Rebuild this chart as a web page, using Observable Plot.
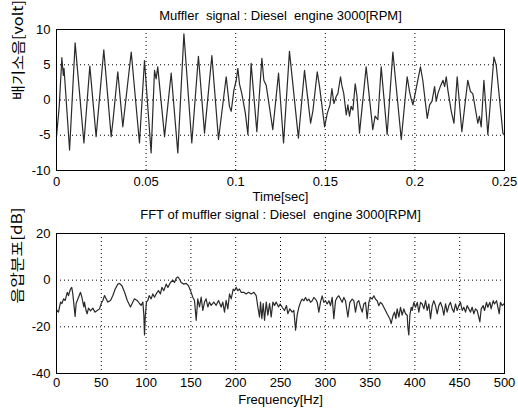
<!DOCTYPE html>
<html><head><meta charset="utf-8">
<script src="https://cdn.jsdelivr.net/npm/d3@7"></script>
<script src="https://cdn.jsdelivr.net/npm/@observablehq/plot@0.6"></script>
<style>
body{margin:0;background:#fff;}
#fig{position:relative;width:518px;height:414px;background:#fff;overflow:hidden}
#fig svg{position:absolute;left:0;overflow:visible;background:none}
</style></head><body><div id="fig"></div>
<script>
// ---- Time-domain signal ----
const timeSec = [0,0.0015,0.0030,0.0038,0.0042,0.0073,0.0104,0.0153,0.0186,0.0221,0.0264,0.0305,0.0315,0.0342,0.0370,0.0417,0.0463,0.0491,0.0528,0.0547,0.0556,0.0565,0.0603,0.0640,0.0677,0.0711,0.0755,0.0792,0.0826,0.0867,0.0904,0.0947,0.0965,0.0975,0.0990,0.1003,0.1012,0.1021,0.1034,0.1047,0.1054,0.1068,0.1086,0.1118,0.1146,0.1157,0.1170,0.1207,0.1239,0.1267,0.1300,0.1350,0.1384,0.1418,0.1431,0.1455,0.1468,0.1496,0.1511,0.1526,0.1537,0.1548,0.1561,0.1570,0.1585,0.1592,0.1603,0.1617,0.1626,0.1635,0.1644,0.1654,0.1667,0.1677,0.1691,0.1728,0.1765,0.1778,0.1793,0.1812,0.1845,0.1877,0.1924,0.1957,0.1970,0.1979,0.1989,0.2007,0.2031,0.2044,0.2069,0.2082,0.2095,0.2110,0.2119,0.2128,0.2143,0.2157,0.2166,0.2175,0.2184,0.2203,0.2218,0.2236,0.2262,0.2295,0.2310,0.2323,0.2351,0.2360,0.2370,0.2385,0.2407,0.2441,0.2454,0.2491,0.2500];
const volt = [-5.2,-1.0,6.0,3.5,4.5,-7.1,8.1,-6.1,4.8,-5.2,7.1,-5.2,-3.0,4.0,-3.8,6.8,-6.1,5.6,-7.5,4.2,3.0,4.7,-5.2,3.8,-7.5,9.4,-6.1,6.2,-4.7,6.3,-5.6,3.3,-0.9,-1.6,1.4,2.8,4.5,2.3,0.9,-0.9,-1.9,-4.9,5.2,-4.5,5.9,2.8,2.1,-4.2,3.8,-6.1,6.9,-5.4,4.2,-3.3,-1.5,4.0,1.9,-3.8,-1.9,-0.7,1.6,-0.5,0.5,0.9,3.3,2.1,0.9,-2.1,-0.7,-2.3,-0.9,-1.4,2.3,0.5,-4.7,4.7,-4.2,-2.3,-2.8,4.7,-4.9,6.8,-5.6,3.3,1.2,0.2,-0.7,1.6,4.7,2.8,-2.6,-0.7,-0.2,1.9,-0.2,0.9,2.0,2.8,1.9,3.3,1.4,-1.6,-3.3,3.3,-4.5,2.8,1.2,0.9,-3.3,-2.3,-3.8,2.8,-4.9,6.1,4.9,-4.7,-5.0];

// ---- Spectrum ----
const freqHz = [0,0.7,2.2,4.5,6,8,9.7,12,13.4,15.6,17,18.2,20.8,21.9,24.6,26.8,28.3,30.5,31.2,33,34.2,35.7,38,40.5,43,45.4,48,49.9,51.7,53.6,55.4,57.3,60.3,62.9,65.5,68.5,70.3,73,76,79,82.6,85.2,87,90,92.6,94.5,96.4,97.5,98.2,99,100.4,101.9,103.4,105.6,107.5,109.4,111.2,113.8,116,117.6,119.8,122.4,124.3,127.2,129.8,131.7,133.6,135.4,137.3,139.1,142.1,144.7,147.3,149.6,152.1,154,155.9,157.7,159.6,161.5,163.3,165.2,167,168.9,170.7,172.6,175.6,178.2,180.8,183.8,185.6,187.5,189.3,191.2,193.1,195,197.2,198.7,200.5,202.4,204.2,206.1,209,211.6,214.4,217.3,220.3,222.9,224.7,226.6,227.7,229.2,230.7,232.2,234.1,235.9,237.8,239.6,241.5,243.3,245.2,247.8,249.6,251.9,254.4,256.7,258.2,260.4,263,264.9,266.8,268.6,270.5,272.3,274.2,276.1,277.9,279.8,281.7,283.5,285.4,287.2,289.1,291,292.8,294.6,296.5,298.4,300.2,302.1,304,305.8,307.7,309.5,311.4,313.2,315.1,317,318.8,320.7,322.5,325.2,327.4,330,331.8,333.7,335.6,337.4,339.3,341.2,343,344.9,346.7,348.6,350.4,352.3,354.2,356,357.9,359.7,361.6,363.5,365.3,369,372,373.5,375.7,377.2,378.7,380.2,382.1,383.9,385.8,387.6,389.5,391.4,392.1,393.2,394.4,395.9,397,398.8,400.7,402.6,404.4,406.3,408.1,410,411.9,413.7,415.6,417.4,419.3,421.1,423,424.9,426.7,428.6,430.5,432.3,434.2,436,437.9,439.7,441.6,443.5,445.3,447.2,449,450.9,452.8,454.6,456.5,458.3,460.2,462.1,463.9,465.8,467.6,469.5,472.5,474,476.2,477.7,479.9,481.4,483.7,485.1,487.4,488.8,491.1,492.6,494.1,495.5,497.4,499.3,500];
const levelDb = [-13.5,-13,-13.7,-9.4,-10,-8,-8.7,-5.2,-6.6,-3.8,-3.1,-5.9,-15.5,-10,-7.3,-5.2,-7.3,-11.5,-9.4,-13,-14.4,-12,-13.2,-12,-13.7,-13,-12.3,-10,-8.7,-6.6,-8,-9.4,-8.7,-6.6,-3.8,-1.7,-1.4,-2.4,-5.2,-8.7,-11.5,-9.4,-8,-8.7,-10,-10.8,-9.4,-15,-23.5,-16,-9.4,-8.7,-6.6,-8,-5.9,-7.3,-5.9,-4.5,-5.9,-3.1,-4.5,-1.7,-3.1,-1,0,-1,0.8,1.4,0.4,-1,-1.7,-1.4,-2.4,-4.5,-7.3,-8.7,-17.2,-8,-11.5,-7.3,-13,-9.4,-8,-11.5,-9.4,-10.8,-9.4,-10.8,-8.7,-11.5,-9.4,-13.7,-8.7,-12.3,-5.9,-8,-3.8,-4.5,-3.1,-4.5,-3.8,-5.2,-5.2,-5.9,-5.2,-5.9,-5.2,-6.6,-11.5,-15.8,-9.4,-16.5,-10,-17.2,-9.4,-15,-10,-15.8,-9.4,-10.8,-9.4,-11.5,-10.2,-11.6,-13,-10.9,-14.4,-12.3,-13.7,-13,-21.4,-15,-11.6,-9.5,-8.1,-8.8,-7.4,-8.8,-8.1,-9.5,-8.8,-7.4,-8.1,-9.5,-13.7,-9.5,-6.7,-9.5,-8.8,-10.2,-8.8,-10.9,-7.4,-16.5,-8.8,-7.4,-6.7,-8.1,-9.5,-7.4,-8.8,-15.8,-9.5,-8.1,-8.8,-13.7,-9.5,-8.8,-11.6,-13.7,-10.2,-9.5,-16.5,-9.5,-7.4,-8.1,-6.7,-8.1,-8.8,-10.9,-9.5,-10.2,-11.6,-14.4,-16.5,-18.6,-15,-13.7,-16.5,-12.3,-15.8,-11.6,-15,-12.3,-14.4,-15,-20,-23.5,-15,-11.6,-13,-9.5,-11.6,-9.5,-13.7,-9.5,-10.2,-12.3,-8.8,-13,-10.2,-16.5,-10.9,-8.8,-10.9,-14.4,-10.9,-9.5,-11.6,-15,-10.2,-13.7,-10.9,-9.5,-12.3,-13.7,-10.2,-13,-10.9,-9.5,-13,-11.6,-13.7,-10.9,-12.3,-13.7,-11.6,-14.4,-12.3,-13,-17.9,-12.3,-10.9,-13,-9.5,-11.6,-9.5,-12.3,-8.8,-10.2,-8.8,-11.6,-14.4,-9.5,-10.9,-10.2,-10.5];

// ---- Ticks and labels ----
const timeTicks = [0, 0.05, 0.1, 0.15, 0.2, 0.25];
const voltTicks = [-10, -5, 0, 5, 10];
const freqTicks = [0, 50, 100, 150, 200, 250, 300, 350, 400, 450, 500];
const dbTicks = [-40, -20, 0, 20];
const topTitle = "Muffler  signal : Diesel  engine 3000[RPM]";
const topXLabel = "Time[sec]";
const topYLabel = "배기소음[volt]";
const botTitle = "FFT of muffler signal : Diesel  engine 3000[RPM]";
const botXLabel = "Frequency[Hz]";
const botYLabel = "음압분포[dB]";

const latin = "Arial, 'Liberation Sans', Helvetica, sans-serif";

function panel(o) {
  const data = o.xs.map((x, i) => ({x, y: o.ys[i]}));
  const svg = Plot.plot({
    width: 518, height: o.height,
    marginLeft: 56, marginRight: 14, marginTop: o.mt, marginBottom: o.mb,
    style: {fontFamily: latin, fontSize: "13px", color: "black", background: "none", overflow: "visible"},
    x: {domain: o.xDomain, ticks: o.xTicks, tickFormat: d => String(d), tickSize: 0, tickPadding: o.xPad, label: null},
    y: {domain: o.yDomain, ticks: o.yTicks, tickFormat: d => String(d), tickSize: 0, tickPadding: 6, label: null},
    marks: [
      Plot.ruleX(o.xTicks.slice(1, -1), {stroke: "black", strokeWidth: 1, strokeDasharray: "1,3"}),
      Plot.ruleY(o.yTicks.slice(1, -1), {stroke: "black", strokeWidth: 1, strokeDasharray: "1,3"}),
      Plot.line(data, {x: "x", y: "y", stroke: "#2a2a2a", strokeWidth: 1.2}),
      Plot.frame({stroke: "black", strokeWidth: 1}),
      Plot.text([o.title], {frameAnchor: "top", lineAnchor: "bottom", dy: o.titleDy, fontSize: 13}),
      Plot.text([o.xlab], {frameAnchor: "bottom", lineAnchor: "bottom", dy: o.xlabDy, fontSize: 13}),
      Plot.text([o.ylab], {frameAnchor: "left", rotate: -90, dx: o.ylabDx, fontSize: 14, fontFamily: "'Noto Sans CJK KR', sans-serif"})
    ]
  });
  svg.style.top = o.top + "px";
  d3.select(svg).selectAll("text").filter(function () { return this.textContent === o.ylab; })
    .attr("textLength", o.ylabLen).attr("lengthAdjust", "spacingAndGlyphs");
  return svg;
}

const fig = document.getElementById("fig");
fig.appendChild(panel({
  xs: timeSec, ys: volt, height: 207, top: 0, mt: 29, mb: 37,
  xDomain: [0, 0.25], yDomain: [-10, 10], xTicks: timeTicks, yTicks: voltTicks, xPad: 6,
  title: topTitle, titleDy: -10, xlab: topXLabel, xlabDy: 30, ylab: topYLabel, ylabDx: -38, ylabLen: 100
}));
fig.appendChild(panel({
  xs: freqHz, ys: levelDb, height: 207, top: 207, mt: 26, mb: 41,
  xDomain: [0, 500], yDomain: [-40, 20], xTicks: freqTicks, yTicks: dbTicks, xPad: 4,
  title: botTitle, titleDy: -15, xlab: botXLabel, xlabDy: 30, ylab: botYLabel, ylabDx: -39, ylabLen: 96
}));
</script></body></html>
